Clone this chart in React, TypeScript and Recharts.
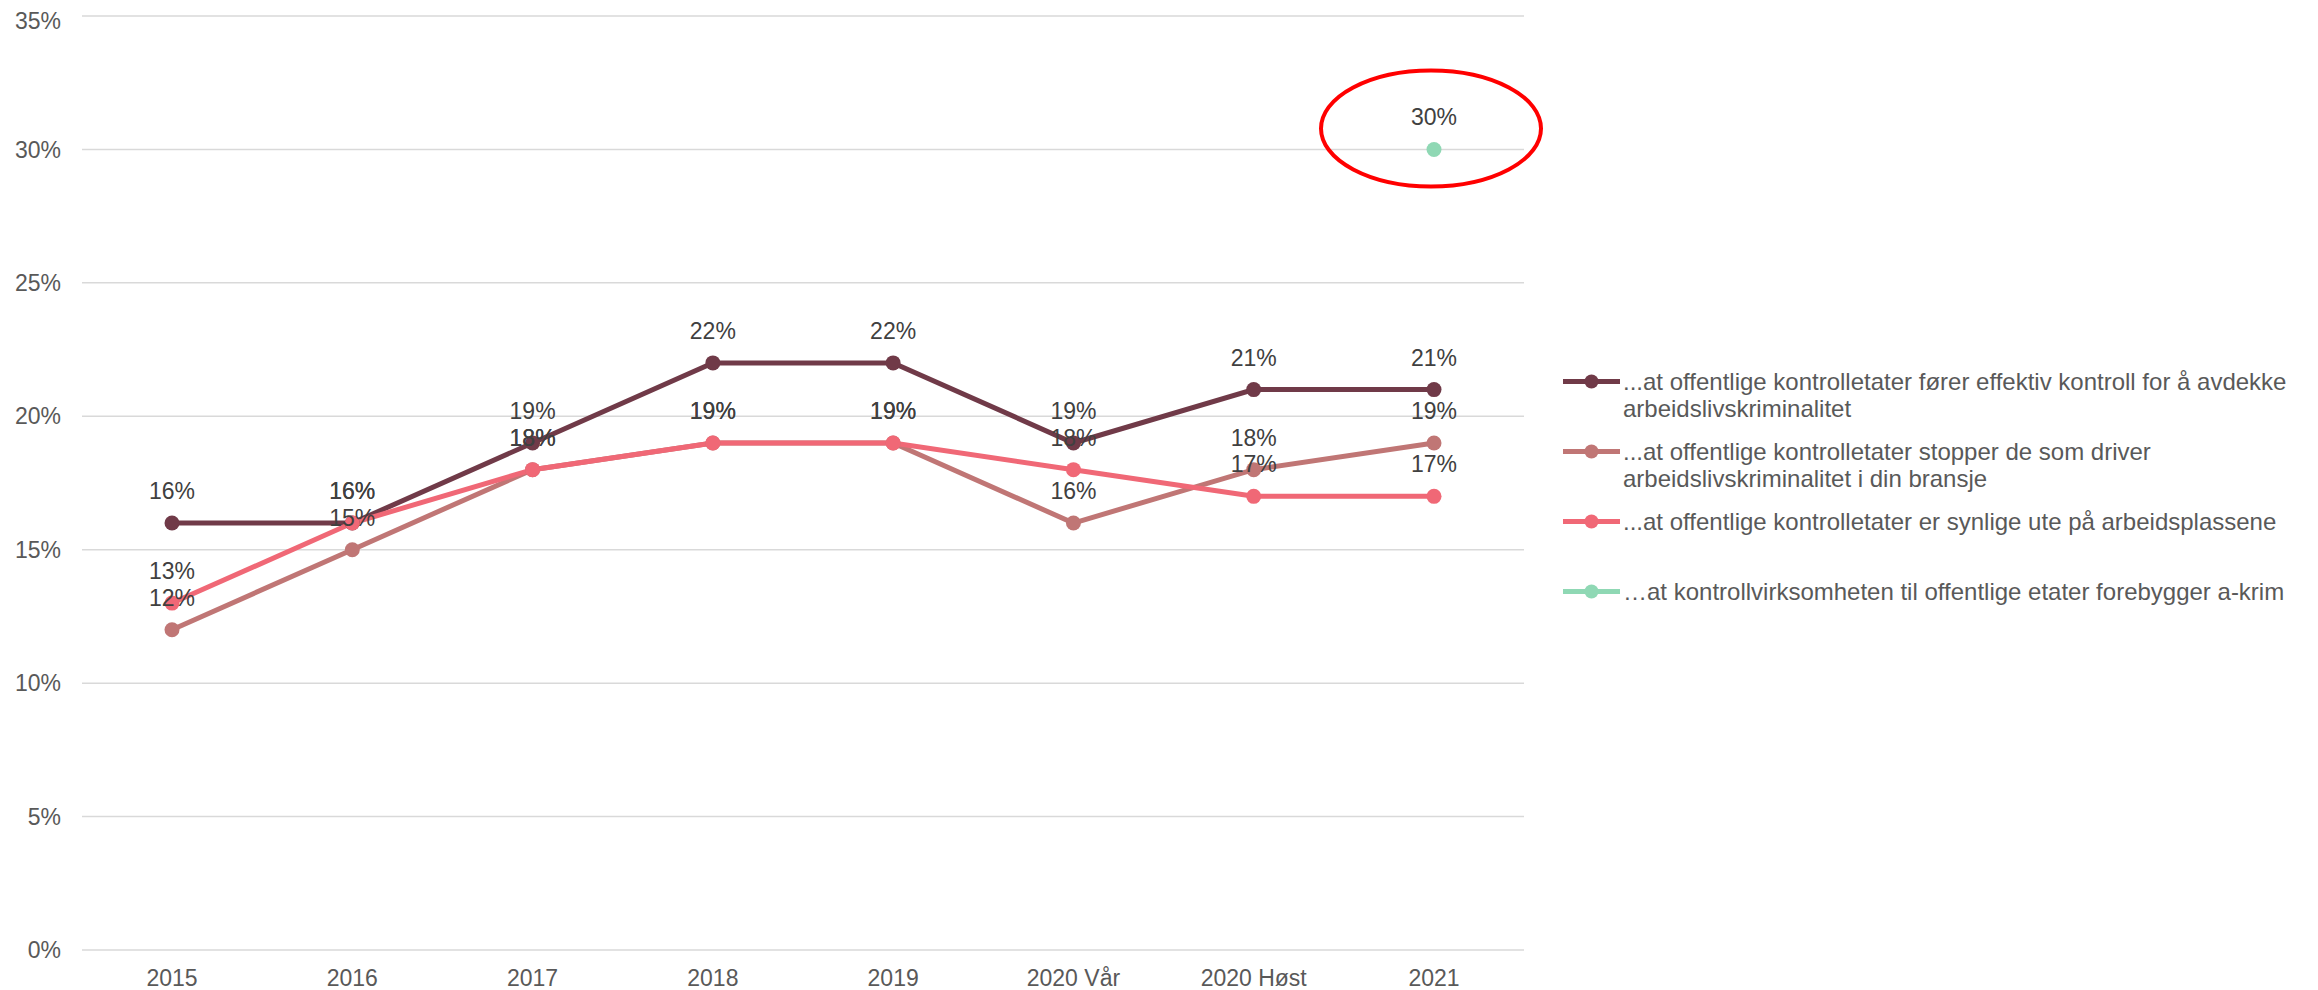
import React from 'react';
import {
  LineChart,
  Line,
  XAxis,
  YAxis,
  CartesianGrid,
  Legend,
  LabelList,
  ReferenceDot,
} from 'recharts';

const years = ['2015', '2016', '2017', '2018', '2019', '2020 Vår', '2020 Høst', '2021'];

const effektivKontroll = [16, 16, 19, 22, 22, 19, 21, 21];
const stopperDe = [12, 15, 18, 19, 19, 16, 18, 19];
const synlige = [13, 16, 18, 19, 19, 18, 17, 17];
const forebygger = [null, null, null, null, null, null, null, 30];

const yTicks = [0, 5, 10, 15, 20, 25, 30, 35];

const seriesNames = [
  '...at offentlige kontrolletater fører effektiv kontroll for å avdekke arbeidslivskriminalitet',
  '...at offentlige kontrolletater stopper de som driver arbeidslivskriminalitet i din bransje',
  '...at offentlige kontrolletater er synlige ute på arbeidsplassene',
  '…at kontrollvirksomheten til offentlige etater forebygger a-krim',
];

const colors = ['#703A48', '#C07675', '#F06876', '#8FD8B4'];

const data = years.map((year, i) => ({
  year,
  s1: effektivKontroll[i],
  s2: stopperDe[i],
  s3: synlige[i],
  s4: forebygger[i],
}));

const FONT = '"Liberation Sans", Arial, sans-serif';

const renderLabel = (props: any) => {
  const { x, y, value } = props;
  if (value === null || value === undefined) return null;
  return (
    <text
      x={x}
      y={y - 24}
      textAnchor="middle"
      fontSize={23}
      fontFamily={FONT}
      fill="#404040"
    >
      {value}%
    </text>
  );
};

const renderLegend = (props: any) => {
  // keep the legend in the same order as the series list
  const payload = [...(props.payload || [])].sort(
    (a: any, b: any) => seriesNames.indexOf(a.value) - seriesNames.indexOf(b.value)
  );
  return (
    <div style={{ fontFamily: FONT }}>
      {payload.map((entry: any) => (
        <div
          key={entry.value}
          style={{ display: 'flex', alignItems: 'flex-start', height: 70 }}
        >
          <svg width={60} height={27} style={{ flexShrink: 0 }}>
            <line x1={0} y1={13.5} x2={57} y2={13.5} stroke={entry.color} strokeWidth={5} />
            <circle cx={28.5} cy={13.5} r={7} fill={entry.color} />
          </svg>
          <div
            style={{
              width: 700,
              fontSize: 24,
              lineHeight: '27px',
              color: '#595959',
            }}
          >
            {entry.value}
          </div>
        </div>
      ))}
    </div>
  );
};

const ellipseShape = (props: any) => {
  const { cx, cy } = props;
  return (
    <ellipse
      cx={cx - 3}
      cy={cy - 21}
      rx={110}
      ry={58}
      fill="none"
      stroke="#FF0000"
      strokeWidth={4}
    />
  );
};

export default function App() {
  const keys = ['s1', 's2', 's3', 's4'];
  return (
    <div style={{ position: 'relative', width: 2302, height: 982 }}>
      <LineChart
        width={2302}
        height={982}
        data={data}
        margin={{ top: 8, right: 786, bottom: 0, left: 0 }}
      >
        <CartesianGrid vertical={false} stroke="#D9D9D9" strokeWidth={1.5} />
        <XAxis
          dataKey="year"
          padding={{ left: 90, right: 90 }}
          axisLine={false}
          tickLine={false}
          tickSize={0}
          tickMargin={20}
          height={40}
          interval={0}
          tick={{ fontSize: 23, fontFamily: FONT, fill: '#595959' }}
        />
        <YAxis
          domain={[0, 35]}
          ticks={yTicks}
          width={74}
          axisLine={false}
          tickLine={false}
          tickSize={0}
          tickMargin={21}
          tickFormatter={(v: number) => `${v}%`}
          tick={{ fontSize: 23, fontFamily: FONT, fill: '#595959' }}
        />
        <Legend
          layout="vertical"
          align="center"
          verticalAlign="middle"
          content={renderLegend}
          wrapperStyle={{ left: 1555, top: 359.5, width: 760 }}
        />
        {keys.map((k, i) => (
          <Line
            key={k}
            type="linear"
            dataKey={k}
            name={seriesNames[i]}
            stroke={colors[i]}
            strokeWidth={5}
            dot={{ r: 7.5, fill: colors[i], stroke: colors[i], strokeWidth: 0 }}
            activeDot={false}
            isAnimationActive={false}
          >
            <LabelList dataKey={k} content={renderLabel} />
          </Line>
        ))}
        <ReferenceDot x="2021" y={30} shape={ellipseShape} />
      </LineChart>
    </div>
  );
}
